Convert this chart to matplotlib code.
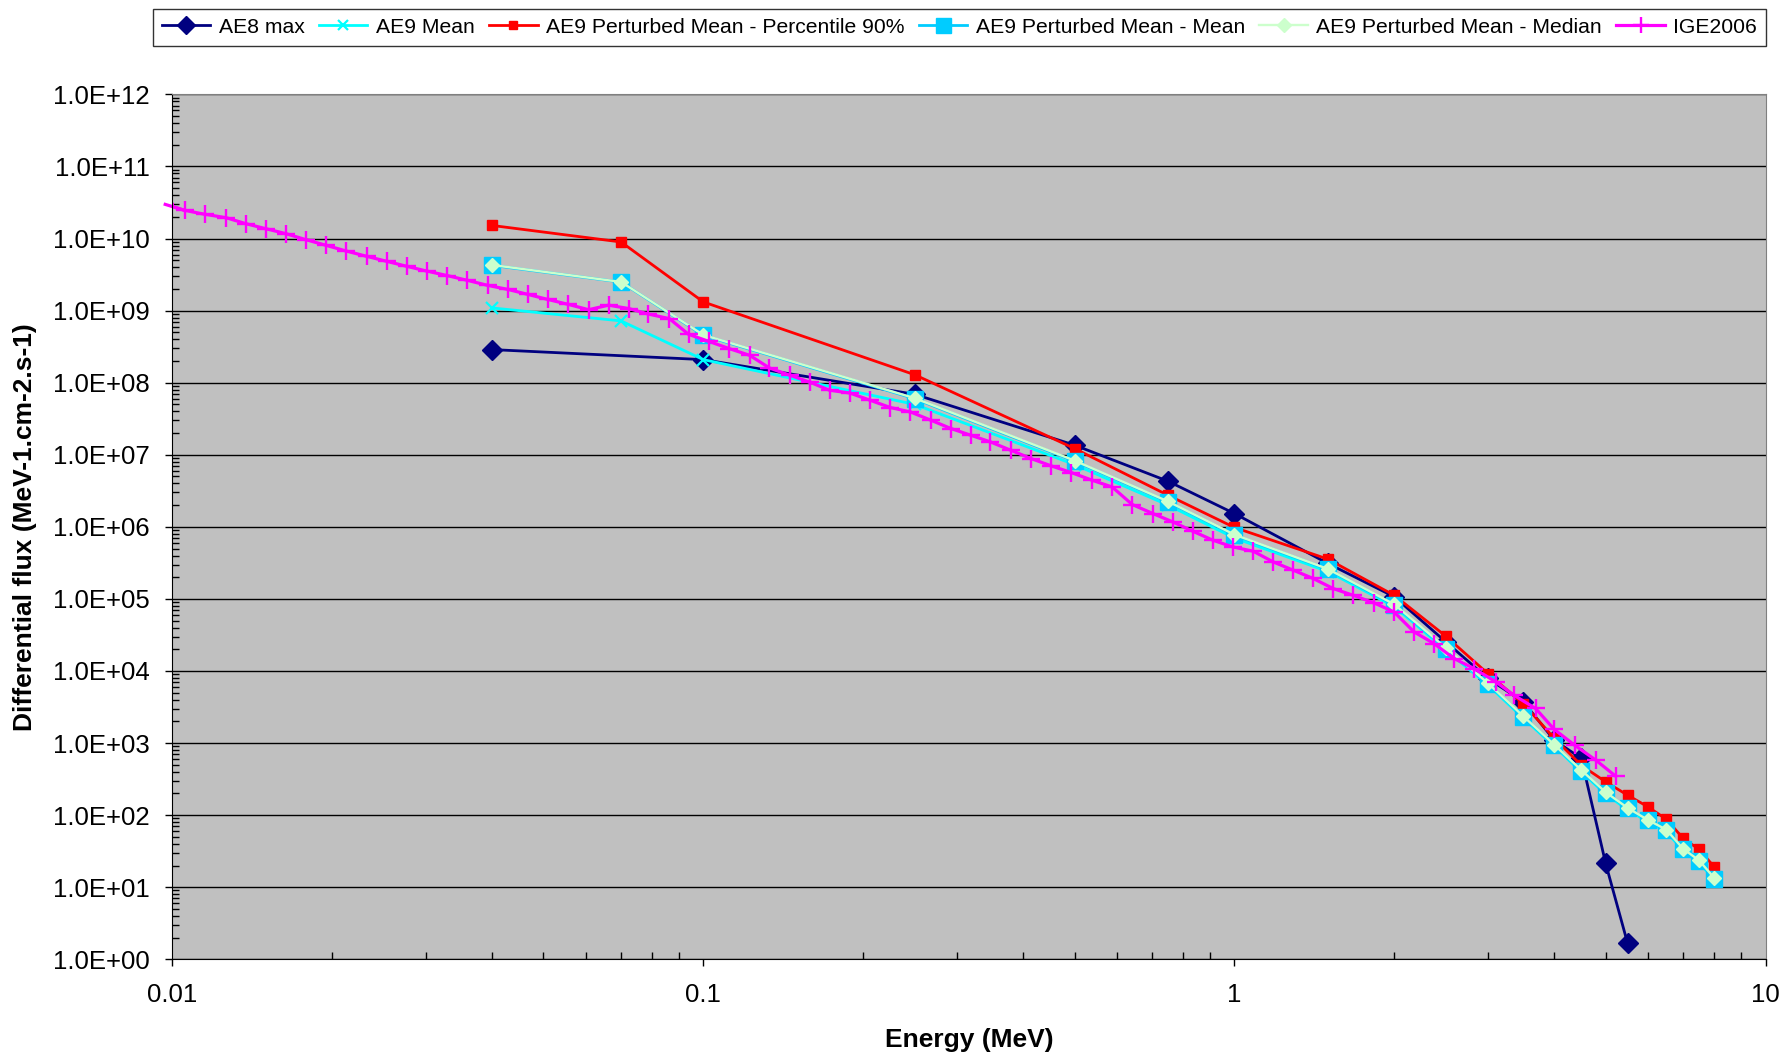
# AE8 / AE9 / IGE2006 electron differential flux spectra

import matplotlib
matplotlib.use("Agg")
import matplotlib.pyplot as plt
from matplotlib.ticker import LogLocator, FuncFormatter, NullFormatter

plt.rcParams['font.family'] = ['Liberation Sans', 'DejaVu Sans']

# energies (MeV)
ae8_energy = [0.04, 0.1, 0.25, 0.5, 0.75, 1, 1.5, 2, 2.5, 3, 3.5, 4, 4.5, 5, 5.5]
ae9_energy = [0.04, 0.07, 0.1, 0.25, 0.5, 0.75, 1, 1.5, 2, 2.5, 3, 3.5, 4, 4.5,
              5, 5.5, 6, 6.5, 7, 7.5, 8]

# fluxes (MeV-1.cm-2.s-1)
ae8_max = [2.88e8, 2.09e8, 6.9e7, 1.36e7, 4.29e6, 1.53e6, 3.1e5, 1.07e5, 2.54e4,
           7.9e3, 3.73e3, 1.1e3, 611, 21.4, 1.66]
ae9_mean = [1.09e9, 7.2e8, 2.09e8, 5.0e7, 7.3e6, 2.0e6, 7.0e5, 2.4e5, 7.8e4, 1.95e4,
            6.4e3, 2.2e3, 900, 395, 195, 118, 81, 59, 32, 22, 12.6]
ae9_pert_p90 = [1.52e10, 8.96e9, 1.32e9, 1.29e8, 1.22e7, 2.74e6, 9.8e5, 3.56e5, 1.12e5,
                3.04e4, 9.2e3, 3.5e3, 1.17e3, 490, 290, 189, 131, 88, 47.5, 33.4, 19.2]
ae9_pert_mean = [4.25e9, 2.49e9, 4.54e8, 6.0e7, 8.13e6, 2.21e6, 7.66e5, 2.56e5, 8.2e4,
                 2.05e4, 6.7e3, 2.31e3, 935, 412, 204, 124, 85, 62, 33.4, 23, 13.2]
ae9_pert_median = [4.3e9, 2.5e9, 4.6e8, 6.1e7, 8.3e6, 2.25e6, 7.8e5, 2.6e5, 8.4e4,
                   2.1e4, 6.8e3, 2.35e3, 950, 420, 208, 126, 86, 63, 34, 23.5, 13.5]

ige_energy = [0.0097, 0.01056, 0.01152, 0.01262, 0.01375, 0.0150, 0.01636, 0.01784,
              0.01949, 0.02125, 0.02323, 0.02535, 0.02764, 0.03014, 0.03296, 0.03596,
              0.03927, 0.04284, 0.04673, 0.05094, 0.0557, 0.0608, 0.0663, 0.0723,
              0.0788, 0.0863, 0.0938, 0.1023, 0.1119, 0.1222, 0.1332, 0.1454, 0.1585,
              0.1729, 0.1886, 0.2062, 0.2250, 0.2454, 0.2684, 0.2927, 0.3192, 0.3470,
              0.3798, 0.4143, 0.4521, 0.4932, 0.5396, 0.5886, 0.642, 0.702, 0.7656,
              0.835, 0.911, 0.993, 1.085, 1.183, 1.291, 1.407, 1.535, 1.674, 1.831,
              1.997, 2.178, 2.376, 2.591, 2.826, 3.105, 3.36, 3.69, 4.00, 4.37, 4.79,
              5.22]
ige2006 = [2.98e10, 2.46e10, 2.17e10, 1.95e10, 1.61e10, 1.37e10, 1.17e10, 9.66e9,
           8.05e9, 6.72e9, 5.67e9, 4.83e9, 4.12e9, 3.54e9, 3.06e9, 2.63e9, 2.24e9,
           1.97e9, 1.68e9, 1.43e9, 1.22e9, 1.03e9, 1.19e9, 1.07e9, 8.97e8, 7.74e8,
           4.69e8, 3.75e8, 2.97e8, 2.40e8, 1.60e8, 1.27e8, 1.02e8, 7.85e7, 7.20e7,
           5.70e7, 4.52e7, 3.93e7, 3.01e7, 2.31e7, 1.86e7, 1.51e7, 1.15e7, 8.85e6,
           7.0e6, 5.66e6, 4.43e6, 3.57e6, 2.04e6, 1.53e6, 1.17e6, 8.69e5, 6.52e5,
           5.26e5, 4.59e5, 3.26e5, 2.50e5, 1.92e5, 1.39e5, 1.12e5, 8.81e4, 6.61e4,
           3.49e4, 2.40e4, 1.49e4, 1.08e4, 7.07e3, 4.61e3, 3.02e3, 1.55e3, 936, 580,
           348]

x_ticks = [0.01, 0.1, 1, 10]
x_tick_labels = ["0.01", "0.1", "1", "10"]

fig = plt.figure(figsize=(17.83, 10.56), dpi=100)
ax = fig.add_axes([0.0966, 0.0916, 0.8936, 0.819])
ax.set_facecolor('#C0C0C0')

ax.plot(ae8_energy, ae8_max, color='#000080', lw=2.0, marker='D', ms=10,
        label='AE8 max')
ax.plot(ae9_energy, ae9_mean, color='#00FFFF', lw=2.0, marker='x', ms=8.5, mew=1.6,
        label='AE9 Mean')
ax.plot(ae9_energy, ae9_pert_p90, color='#FF0000', lw=2.0, marker='s', ms=6.6,
        label='AE9 Perturbed Mean - Percentile 90%')
ax.plot(ae9_energy, ae9_pert_mean, color='#00CCFF', lw=2.0, marker='s', ms=12,
        label='AE9 Perturbed Mean - Mean')
ax.plot(ae9_energy, ae9_pert_median, color='#CCFFCC', lw=1.7, marker='D', ms=7.5,
        label='AE9 Perturbed Mean - Median')
# first IGE point sits just left of 0.01: the line runs past the axis edge
ax.plot(ige_energy[:2], ige2006[:2], color='#FF00FF', lw=2.3, clip_on=False)
ax.plot(ige_energy, ige2006, color='#FF00FF', lw=2.3, marker='+', ms=13, mew=1.7,
        label='IGE2006')

ax.set_xscale('log')
ax.set_yscale('log')
ax.set_xlim(0.01, 10)
ax.set_ylim(1, 1e12)

ax.set_xticks(x_ticks)
ax.set_xticklabels(x_tick_labels)
ax.xaxis.set_minor_locator(LogLocator(base=10, subs=range(2, 10)))
ax.xaxis.set_minor_formatter(NullFormatter())
ax.yaxis.set_major_locator(LogLocator(base=10, numticks=20))
ax.yaxis.set_minor_locator(LogLocator(base=10, subs=range(2, 10), numticks=20))
ax.yaxis.set_major_formatter(FuncFormatter(lambda v, p: f"{v:.1E}"))
ax.yaxis.set_minor_formatter(NullFormatter())

ax.tick_params(which='major', direction='out', length=5, width=1, labelsize=18.5)
ax.tick_params(axis='x', which='major', pad=12)
ax.tick_params(axis='y', which='major', pad=11)
ax.tick_params(which='minor', direction='in', length=5, width=1)

ax.grid(axis='y', which='major', color='black', lw=1)
ax.set_axisbelow(True)
for side in ['top', 'right']:
    ax.spines[side].set_color('#808080')
for side in ['left', 'bottom']:
    ax.spines[side].set_color('black')

ax.set_xlabel('Energy (MeV)', fontsize=19, fontweight='bold')
ax.set_ylabel('Differential flux (MeV-1.cm-2.s-1)', fontsize=19, fontweight='bold')
ax.xaxis.set_label_coords(0.5, -0.093)
ax.xaxis.label.set_va('center')
ax.yaxis.set_label_coords(-0.0925, 0.5)
ax.yaxis.label.set_va('center')

leg = fig.legend(loc='upper right', bbox_to_anchor=(0.9905, 0.9915), ncol=6,
                 fontsize=15.2, frameon=True, fancybox=False, edgecolor='black',
                 handlelength=2.3, handletextpad=0.4, columnspacing=0.68,
                 borderpad=0.42, borderaxespad=0, markerscale=0.9)
leg.get_frame().set_linewidth(1)

fig.savefig('out.png', dpi=100)
